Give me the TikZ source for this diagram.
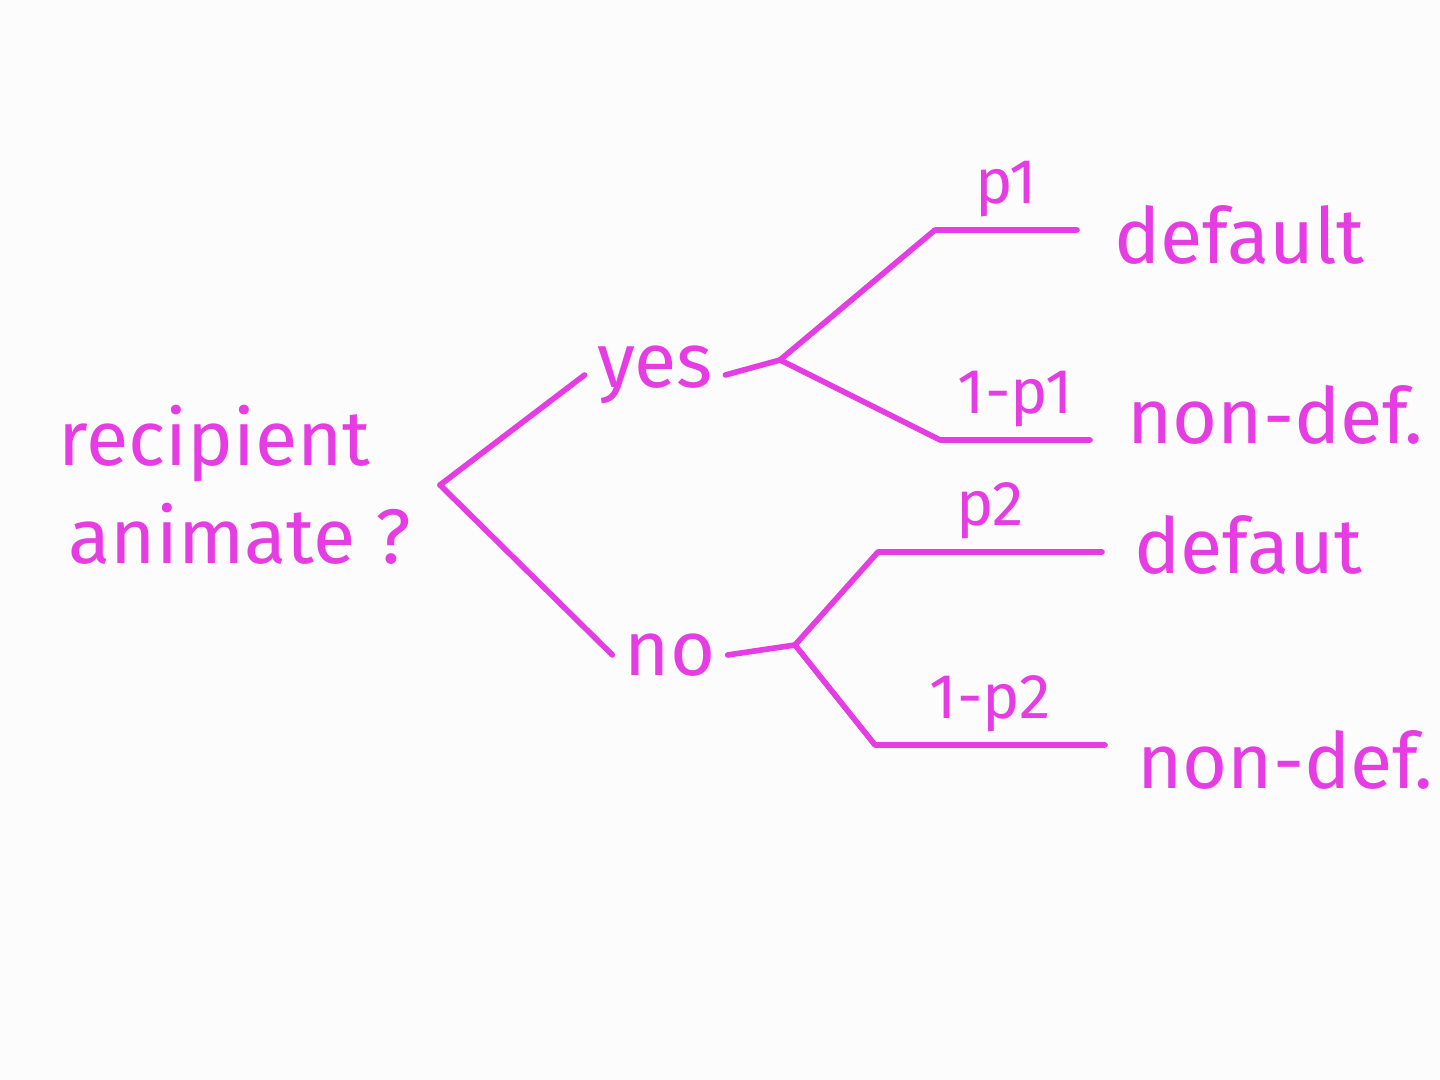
\documentclass[tikz,border=0pt]{standalone}
\usepackage{fontspec}
\setmainfont{Fira Sans}
\usetikzlibrary{calc}
\definecolor{ink}{HTML}{E63CE3}
\definecolor{paper}{HTML}{FDFCFD}

\begin{document}
\begin{tikzpicture}[
    branch/.style={ink, line width=1.6pt, line cap=round, line join=round},
    word/.style={ink, font=\fontsize{22}{28}\selectfont},
    prob/.style={ink, font=\fontsize{18}{20}\selectfont, inner sep=3pt}]
  \useasboundingbox (0,0) rectangle (14.4,10.8);
  \fill[paper] (0,0) rectangle (14.4,10.8);

  % question and answers
  \node[word, anchor=west, align=left, inner xsep=8pt] (root) at (0.3,5.95) {recipient\\\hspace*{0.1cm}animate ?};
  \node[word] (yes) at (6.55,7.05) {yes};
  \node[word] (no) at (6.7,4.25) {no};

  % outcomes
  \node[word, anchor=west] (d1) at (11.02,8.45) {default};
  \node[word, anchor=west] (n1) at (11.15,6.65) {non-def.};
  \node[word, anchor=west] (d2) at (11.22,5.35) {defaut};
  \node[word, anchor=west] (n2) at (11.25,3.2) {non-def.};

  % forks and elbows
  \coordinate (fy) at (7.8,7.2);
  \coordinate (fn) at (7.95,4.35);
  \coordinate (e1) at (9.35,8.5);
  \coordinate (e2) at (9.4,6.4);
  \coordinate (e3) at (8.78,5.28);
  \coordinate (e4) at (8.75,3.35);

  \draw[branch] (root.east) -- (yes.west);
  \draw[branch] (root.east) -- (no.west);
  \draw[branch] (yes.east) -- (fy);
  \draw[branch] (no.east) -- (fn);

  \draw[branch] (fy) -- (e1) -- node[prob, above] {p1} ($(e1 -| d1.west)+(-0.25,0)$);
  \draw[branch] (fy) -- (e2) -- node[prob, above] {1-p1} ($(e2 -| n1.west)+(-0.25,0)$);
  \draw[branch] (fn) -- (e3) -- node[prob, above] {p2} ($(e3 -| d2.west)+(-0.2,0)$);
  \draw[branch] (fn) -- (e4) -- node[prob, above] {1-p2} ($(e4 -| n2.west)+(-0.2,0)$);
\end{tikzpicture}
\end{document}
